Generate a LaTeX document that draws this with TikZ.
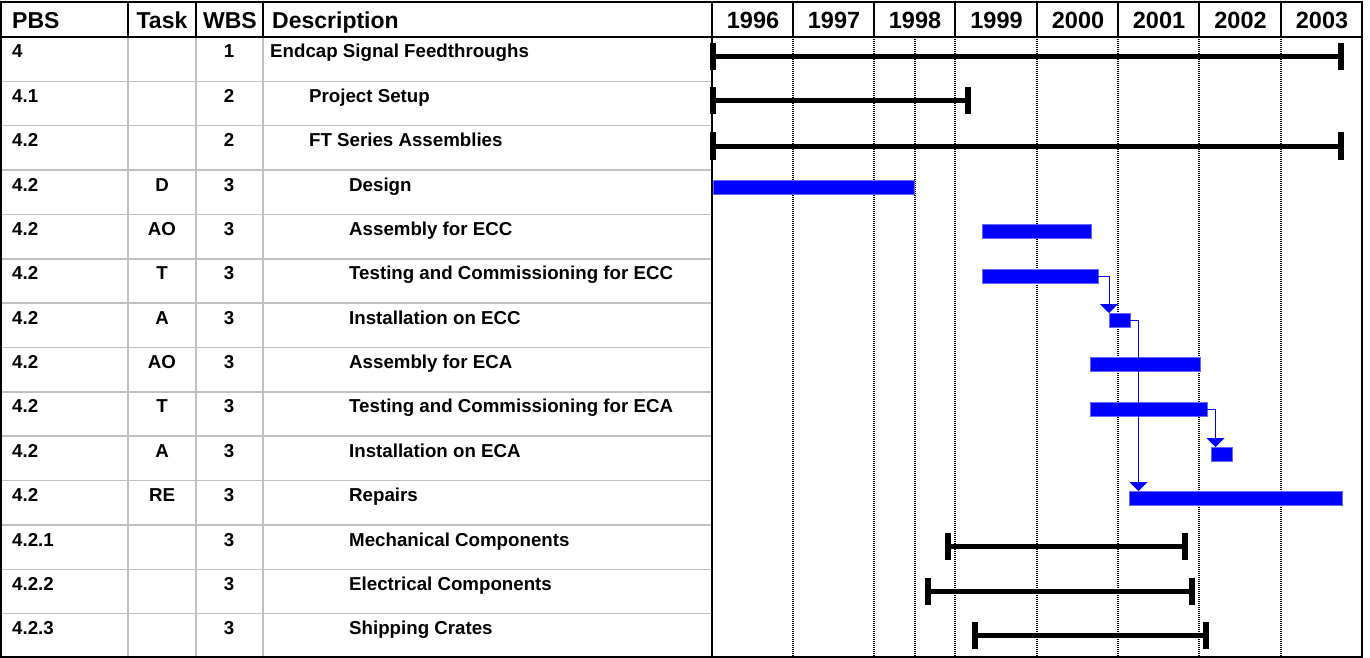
\documentclass[tikz,border=0pt]{standalone}
\usepackage{fontspec}
\setmainfont{Liberation Sans}
\usepackage{tikz}
\usetikzlibrary{arrows.meta}
\definecolor{ganttblue}{RGB}{0,0,255}
\definecolor{gridgray}{RGB}{192,192,192}

\begin{document}
\begin{tikzpicture}[
      x=1pt, y=-1pt,
      head/.style={font=\fontsize{23}{25}\selectfont\bfseries, inner sep=0pt, anchor=base west},
      midhead/.style={head, anchor=base},
      yearhead/.style={font=\fontsize{23.5}{25}\selectfont\bfseries, inner sep=0pt, anchor=base},
      cell/.style={font=\fontsize{18.7}{21}\selectfont\bfseries, inner sep=0pt, anchor=base west},
      midcell/.style={cell, anchor=base},
      taskbar/.style={fill=ganttblue, draw=ganttblue!60, line width=0.8pt, minimum height=14pt, inner sep=0pt, outer sep=0pt, anchor=west},
      sumbar/.style={line width=5pt, {Bar[width=27pt,line width=6pt]}-{Bar[width=27pt,line width=6pt]}},
      link/.style={-{Triangle[width=18pt,length=9pt]}, ganttblue, line width=1pt},
      rowline/.style={gridgray, line width=1.5pt},
      yearline/.style={line width=1.2pt, dash pattern=on 1pt off 1pt}
    ]
      \useasboundingbox (0,0) rectangle (1370,658);

      % Table grid (gray)
      \draw[rowline] (1,81.4) -- (712,81.4);
      \draw[rowline] (1,125.7) -- (712,125.7);
      \draw[rowline] (1,170.1) -- (712,170.1);
      \draw[rowline] (1,214.4) -- (712,214.4);
      \draw[rowline] (1,258.8) -- (712,258.8);
      \draw[rowline] (1,303.2) -- (712,303.2);
      \draw[rowline] (1,347.5) -- (712,347.5);
      \draw[rowline] (1,391.9) -- (712,391.9);
      \draw[rowline] (1,436.2) -- (712,436.2);
      \draw[rowline] (1,480.6) -- (712,480.6);
      \draw[rowline] (1,525) -- (712,525);
      \draw[rowline] (1,569.3) -- (712,569.3);
      \draw[rowline] (1,613.7) -- (712,613.7);
      \draw[rowline] (128,37) -- (128,657);
      \draw[rowline] (196,37) -- (196,657);
      \draw[rowline] (263,37) -- (263,657);

      % Year lines in the chart
      \draw[yearline] (793,37) -- (793,657);
      \draw[yearline] (874,37) -- (874,657);
      \draw[yearline] (915,37) -- (915,657);
      \draw[yearline] (955,37) -- (955,657);
      \draw[yearline] (1037,37) -- (1037,657);
      \draw[yearline] (1118,37) -- (1118,657);
      \draw[yearline] (1199,37) -- (1199,657);
      \draw[yearline] (1281,37) -- (1281,657);

      % Header and frame
      \draw[line width=1.5pt] (128,2) -- (128,37);
      \draw[line width=1.5pt] (196,2) -- (196,37);
      \draw[line width=1.5pt] (263,2) -- (263,37);
      \draw[line width=1.5pt] (793,2) -- (793,37);
      \draw[line width=1.5pt] (874,2) -- (874,37);
      \draw[line width=1.5pt] (955,2) -- (955,37);
      \draw[line width=1.5pt] (1037,2) -- (1037,37);
      \draw[line width=1.5pt] (1118,2) -- (1118,37);
      \draw[line width=1.5pt] (1199,2) -- (1199,37);
      \draw[line width=1.5pt] (1281,2) -- (1281,37);
      \draw[line width=2pt] (1,37) -- (1362,37);
      \draw[line width=2pt] (712,2) -- (712,657);
      \draw[line width=2pt] (1,2) rectangle (1362,657);

      \node[head] (hpbs) at (12,29) {PBS};
      \node[midhead] (htask) at (162,29) {Task};
      \node[midhead] (hwbs) at (230,29) {WBS};
      \node[head] (hdesc) at (272,29) {Description};
      \node[yearhead] (y96) at (753,29) {1996};
      \node[yearhead] (y97) at (834,29) {1997};
      \node[yearhead] (y98) at (915,29) {1998};
      \node[yearhead] (y99) at (996.5,29) {1999};
      \node[yearhead] (y00) at (1078,29) {2000};
      \node[yearhead] (y01) at (1159,29) {2001};
      \node[yearhead] (y02) at (1240.5,29) {2002};
      \node[yearhead] (y03) at (1322,29) {2003};

      % Table rows
      \node[cell] (pbs1) at (12,58) {4};
      \node[midcell] (wbs1) at (229,58) {1};
      \node[cell] (desc1) at (270,58) {Endcap Signal Feedthroughs};

      \node[cell] (pbs2) at (12,102.4) {4.1};
      \node[midcell] (wbs2) at (229,102.4) {2};
      \node[cell] (desc2) at (309,102.4) {Project Setup};

      \node[cell] (pbs3) at (12,146.7) {4.2};
      \node[midcell] (wbs3) at (229,146.7) {2};
      \node[cell] (desc3) at (309,146.7) {FT Series Assemblies};

      \node[cell] (pbs4) at (12,191.1) {4.2};
      \node[midcell] (task4) at (162,191.1) {D};
      \node[midcell] (wbs4) at (229,191.1) {3};
      \node[cell] (desc4) at (349,191.1) {Design};

      \node[cell] (pbs5) at (12,235.4) {4.2};
      \node[midcell] (task5) at (162,235.4) {AO};
      \node[midcell] (wbs5) at (229,235.4) {3};
      \node[cell] (desc5) at (349,235.4) {Assembly for ECC};

      \node[cell] (pbs6) at (12,279.8) {4.2};
      \node[midcell] (task6) at (162,279.8) {T};
      \node[midcell] (wbs6) at (229,279.8) {3};
      \node[cell] (desc6) at (349,279.8) {Testing and Commissioning for ECC};

      \node[cell] (pbs7) at (12,324.2) {4.2};
      \node[midcell] (task7) at (162,324.2) {A};
      \node[midcell] (wbs7) at (229,324.2) {3};
      \node[cell] (desc7) at (349,324.2) {Installation on ECC};

      \node[cell] (pbs8) at (12,368.5) {4.2};
      \node[midcell] (task8) at (162,368.5) {AO};
      \node[midcell] (wbs8) at (229,368.5) {3};
      \node[cell] (desc8) at (349,368.5) {Assembly for ECA};

      \node[cell] (pbs9) at (12,412.9) {4.2};
      \node[midcell] (task9) at (162,412.9) {T};
      \node[midcell] (wbs9) at (229,412.9) {3};
      \node[cell] (desc9) at (349,412.9) {Testing and Commissioning for ECA};

      \node[cell] (pbs10) at (12,457.2) {4.2};
      \node[midcell] (task10) at (162,457.2) {A};
      \node[midcell] (wbs10) at (229,457.2) {3};
      \node[cell] (desc10) at (349,457.2) {Installation on ECA};

      \node[cell] (pbs11) at (12,501.6) {4.2};
      \node[midcell] (task11) at (162,501.6) {RE};
      \node[midcell] (wbs11) at (229,501.6) {3};
      \node[cell] (desc11) at (349,501.6) {Repairs};

      \node[cell] (pbs12) at (12,546) {4.2.1};
      \node[midcell] (wbs12) at (229,546) {3};
      \node[cell] (desc12) at (349,546) {Mechanical Components};

      \node[cell] (pbs13) at (12,590.3) {4.2.2};
      \node[midcell] (wbs13) at (229,590.3) {3};
      \node[cell] (desc13) at (349,590.3) {Electrical Components};

      \node[cell] (pbs14) at (12,634.7) {4.2.3};
      \node[midcell] (wbs14) at (229,634.7) {3};
      \node[cell] (desc14) at (349,634.7) {Shipping Crates};

      % Summary bars
      \draw[sumbar] (710,57) -- (1344,57);
      \draw[sumbar] (710,101) -- (971,101);
      \draw[sumbar] (710,146) -- (1344,146);
      \draw[sumbar] (945,546) -- (1188,546);
      \draw[sumbar] (925,591) -- (1195,591);
      \draw[sumbar] (972,635) -- (1209,635);

      % Task bars
      \node[taskbar, minimum width=201pt] (design) at (713,187) {};
      \node[taskbar, minimum width=109pt] (asmecc) at (982,231) {};
      \node[taskbar, minimum width=116pt] (tstecc) at (982,276) {};
      \node[taskbar, minimum width=21pt] (insecc) at (1109,320) {};
      \node[taskbar, minimum width=110pt] (asmeca) at (1090,364) {};
      \node[taskbar, minimum width=117pt] (tsteca) at (1090,409) {};
      \node[taskbar, minimum width=21pt] (inseca) at (1211,454) {};
      \node[taskbar, minimum width=213pt] (repairs) at (1129,498) {};

      % Dependencies
      \draw[link] (tstecc.east) -| (insecc.north west);
      \draw[link] (insecc.east) -| ([xshift=9.5pt]repairs.north west);
      \draw[link] (tsteca.east) -| ([xshift=4.5pt]inseca.north west);
    \end{tikzpicture}
\end{document}
